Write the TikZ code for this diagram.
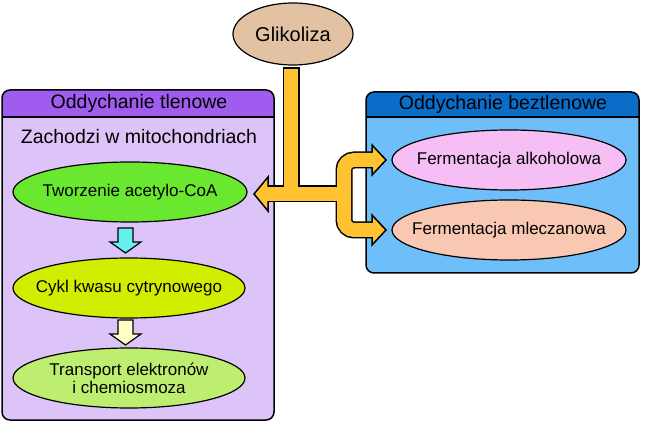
\documentclass[tikz,border=0pt]{standalone}
\usepackage{fontspec}
\setmainfont{Liberation Sans}
\usetikzlibrary{shapes.geometric}
\definecolor{glik}{HTML}{E2C2A2}
\definecolor{lbody}{HTML}{DCC4F8}
\definecolor{lhead}{HTML}{A05CEE}
\definecolor{rbody}{HTML}{6EBEFA}
\definecolor{rhead}{HTML}{0A6EC8}
\definecolor{gA}{HTML}{6AE830}
\definecolor{gB}{HTML}{D2EE00}
\definecolor{gC}{HTML}{BEEE70}
\definecolor{pinkA}{HTML}{F5BEF5}
\definecolor{peach}{HTML}{F8C8B2}
\definecolor{orng}{HTML}{FFC332}
\definecolor{cyanA}{HTML}{66F0F0}
\definecolor{lyel}{HTML}{FFFFC8}
\newcommand{\zw}[1]{\makebox[0pt]{#1}}
\tikzset{
  ell/.style={ellipse, draw=black, line width=1.2pt, inner sep=0pt, minimum width=234pt, minimum height=60pt, font=\fontsize{17}{18}\selectfont, align=center},
  hdr/.style={font=\fontsize{19.5}{22}\selectfont, inner sep=0pt},
  boxline/.style={draw=black, line width=1.5pt},
  blk/.style={line width=17pt, black},
  org/.style={line width=14pt, orng},
  ahead/.style={fill=orng, draw=black, line width=1.5pt, line join=miter},
  sarrow/.style={draw=black, line width=1.2pt, line join=miter}
}
\begin{document}
\begin{tikzpicture}[x=1pt,y=-1pt]
\useasboundingbox[fill=white] (0,0) rectangle (650,427);
% left box
\fill[lbody, rounded corners=8pt] (2,90) rectangle (274,420);
\begin{scope}
\clip[rounded corners=8pt] (2,90) rectangle (274,420);
\fill[lhead] (2,90) rectangle (274,117);
\end{scope}
\draw[boxline] (2,117) -- (274,117);
\draw[boxline, rounded corners=8pt] (2,90) rectangle (274,420);
\node[hdr] (lt) at (139,103.5) {Oddychanie tlenowe};
\node[hdr] (zm) at (139,137) {Zachodzi w mitochondriach};
% right box
\fill[rbody, rounded corners=8pt] (366,92) rectangle (639,273);
\begin{scope}
\clip[rounded corners=8pt] (366,92) rectangle (639,273);
\fill[rhead] (366,92) rectangle (639,117);
\end{scope}
\draw[boxline] (366,117) -- (639,117);
\draw[boxline, rounded corners=8pt] (366,92) rectangle (639,273);
\node[hdr] (rt) at (503,104.5) {Oddychanie beztlenowe};
% ellipses
\node[ell, fill=glik, minimum width=120pt, minimum height=62pt, font=\fontsize{20}{22}\selectfont] (gl) at (293,34) {\zw{Glikoliza}};
\node[ell, fill=gA] (e1) at (130,192) {\zw{Tworzenie acetylo-CoA}};
\node[ell, fill=gB, minimum width=232pt] (e2) at (129,288) {\zw{Cykl kwasu cytrynowego}};
\node[ell, fill=gC, minimum width=232pt] (e3) at (129,378) {\zw{Transport elektronów}\\\zw{i chemiosmoza}};
\node[ell, fill=pinkA] (r1) at (509,160) {\zw{Fermentacja alkoholowa}};
\node[ell, fill=peach] (r2) at (509,230) {\zw{Fermentacja mleczanowa}};
% small block arrows
\filldraw[sarrow, fill=cyanA] (118,228) -- (133,228) -- (133,242) -- (141,242) -- (125.5,253) -- (110,242) -- (118,242) -- cycle;
\filldraw[sarrow, fill=lyel] (118,320) -- (133,320) -- (133,334) -- (141,334) -- (125.5,345) -- (110,334) -- (118,334) -- cycle;
% big fork arrow: black layer
\draw[blk] (291,67.5) -- (291,194);
\draw[blk] (262,194) -- (345,194);
\draw[blk, rounded corners=10pt] (376,160) -- (344,160) -- (344,230) -- (376,230);
\filldraw[ahead] (268,177) -- (254,194) -- (268,211) -- cycle;
\filldraw[ahead] (372,145) -- (386,160) -- (372,175) -- cycle;
\filldraw[ahead] (372,215) -- (386,230) -- (372,245) -- cycle;
% orange layer
\draw[org] (291,69) -- (291,194);
\draw[org] (265,194) -- (344,194);
\draw[org, rounded corners=10pt] (375,160) -- (344,160) -- (344,230) -- (375,230);
\end{tikzpicture}
\end{document}
